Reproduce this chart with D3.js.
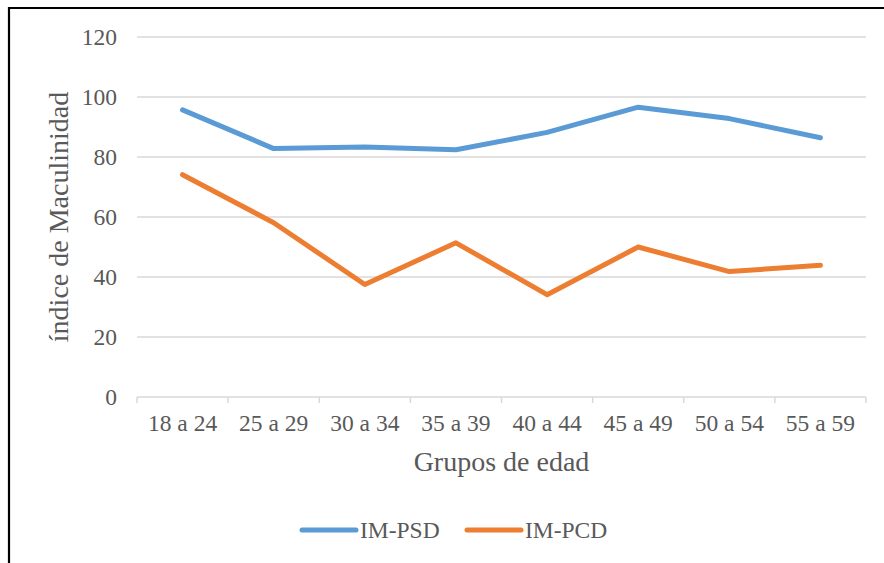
<!DOCTYPE html>
<html>
<head>
<meta charset="utf-8">
<script src="https://cdn.jsdelivr.net/npm/d3@7/dist/d3.min.js"></script>
<style>
  html, body { margin: 0; padding: 0; background: #fff; }
  svg { display: block; }
  svg text { font-family: "Liberation Serif", Tinos, "Times New Roman", Times, "DejaVu Serif", serif; fill: #595959; }
</style>
</head>
<body>
<svg id="chart" width="884" height="563"></svg>
<script>
// Age groups and the two masculinity index series
const categories = ["18 a 24", "25 a 29", "30 a 34", "35 a 39", "40 a 44", "45 a 49", "50 a 54", "55 a 59"];
const imPSD = [95.7, 82.8, 83.3, 82.4, 88.2, 96.6, 92.8, 86.4];
const imPCD = [74.1, 58.1, 37.5, 51.4, 34.1, 50.0, 41.8, 43.9];
const yTicks = [0, 20, 40, 60, 80, 100, 120];
const seriesNames = ["IM-PSD", "IM-PCD"];
const seriesColors = ["#5B9BD5", "#ED7D31"];

const FONT = '"Liberation Serif", Tinos, "Times New Roman", Times, "DejaVu Serif", serif';

const svg = d3.select("#chart");

// Frame lines (left and top)
svg.append("line").attr("x1", 9).attr("x2", 9).attr("y1", 7).attr("y2", 563)
  .attr("stroke", "#000").attr("stroke-width", 2.2);
svg.append("line").attr("x1", 8).attr("x2", 884).attr("y1", 8).attr("y2", 8)
  .attr("stroke", "#000").attr("stroke-width", 2.2);

const x = d3.scaleBand().domain(categories).range([137, 866]).paddingInner(0).paddingOuter(0);
const y = d3.scaleLinear().domain([0, 120]).range([397, 37]);

// Horizontal gridlines
svg.append("g").selectAll("line").data(yTicks.filter(d => d > 0)).join("line")
  .attr("x1", 137).attr("x2", 866)
  .attr("y1", d => y(d)).attr("y2", d => y(d))
  .attr("stroke", "#D9D9D9").attr("stroke-width", 1.5);

// Y axis labels
svg.append("g").selectAll("text").data(yTicks).join("text")
  .attr("x", 117).attr("y", d => y(d))
  .attr("text-anchor", "end").attr("dominant-baseline", "central")
  .attr("font-family", FONT).style("font-size", "23.5px")
  .text(d => d);

// X axis line with tick marks between categories
const xAxis = svg.append("g");
xAxis.append("line").attr("x1", 137).attr("x2", 866).attr("y1", y(0)).attr("y2", y(0))
  .attr("stroke", "#D9D9D9").attr("stroke-width", 1.5);
const boundaries = categories.map(c => x(c)).concat([x(categories[categories.length - 1]) + x.bandwidth()]);
xAxis.selectAll("line.tick").data(boundaries).join("line").attr("class", "tick")
  .attr("x1", d => d).attr("x2", d => d).attr("y1", y(0)).attr("y2", y(0) + 6)
  .attr("stroke", "#D9D9D9").attr("stroke-width", 1.5);
xAxis.selectAll("text").data(categories).join("text")
  .attr("x", d => x(d) + x.bandwidth() / 2).attr("y", 431)
  .attr("text-anchor", "middle")
  .attr("font-family", FONT).style("font-size", "23.5px")
  .text(d => d);

// Axis titles
svg.append("text").attr("x", (137 + 866) / 2).attr("y", 471)
  .attr("text-anchor", "middle").attr("font-family", FONT).style("font-size", "28px")
  .text("Grupos de edad");
svg.append("text")
  .attr("transform", `translate(68, ${(y(0) + y(120)) / 2}) rotate(-90)`)
  .attr("text-anchor", "middle").attr("font-family", FONT).style("font-size", "28px")
  .text("índice de Maculinidad");

// Series lines
const line = d3.line()
  .x((d, i) => x(categories[i]) + x.bandwidth() / 2)
  .y(d => y(d));
[imPSD, imPCD].forEach((vals, k) => {
  svg.append("path").datum(vals)
    .attr("d", line)
    .attr("fill", "none")
    .attr("stroke", seriesColors[k])
    .attr("stroke-width", 5)
    .attr("stroke-linecap", "round")
    .attr("stroke-linejoin", "round");
});

// Legend
const legendX = [302, 467];
seriesNames.forEach((name, k) => {
  const g = svg.append("g").attr("transform", `translate(${legendX[k]}, 530)`);
  g.append("line").attr("x1", 0).attr("x2", 54).attr("y1", 0).attr("y2", 0)
    .attr("stroke", seriesColors[k]).attr("stroke-width", 5).attr("stroke-linecap", "round");
  g.append("text").attr("x", 58).attr("y", 8)
    .attr("font-family", FONT).style("font-size", "23.5px").text(name);
});
</script>
</body>
</html>
